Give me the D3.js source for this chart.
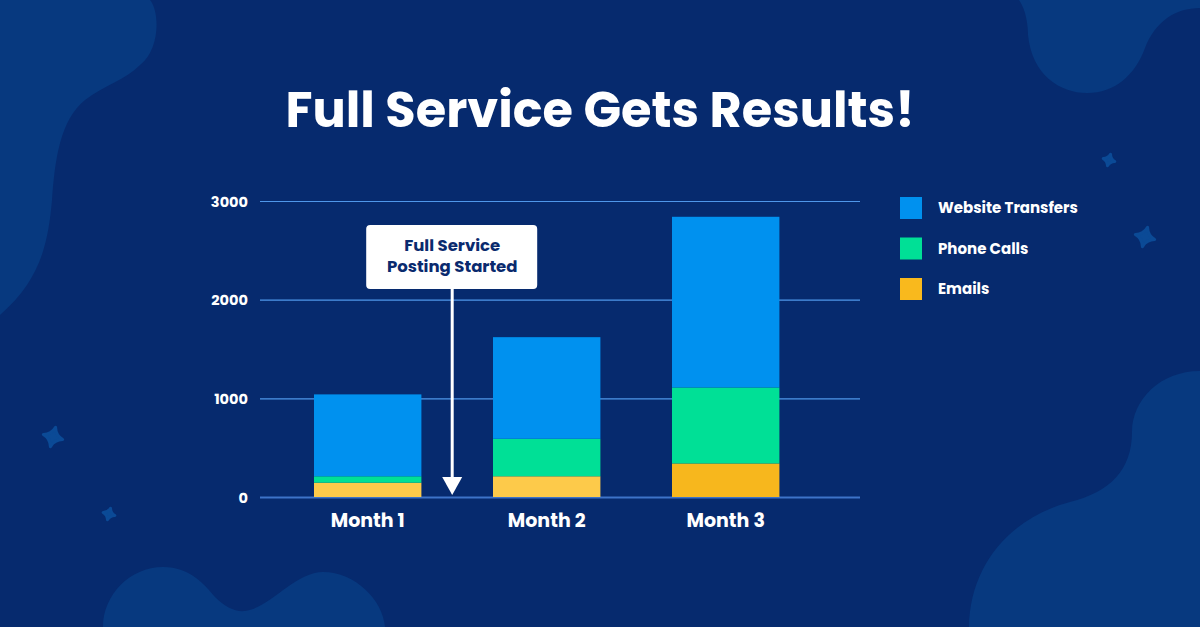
<!DOCTYPE html>
<html>
<head>
<meta charset="utf-8">
<script src="https://cdn.jsdelivr.net/npm/d3@7"></script>
<style>
  html, body { margin: 0; padding: 0; background: #062a6e; }
  svg { display: block; }
</style>
</head>
<body>
<div id="chart"></div>
<script>
// chart data
var months = ['Month 1', 'Month 2', 'Month 3'];
var seriesNames = ['Emails', 'Phone Calls', 'Website Transfers'];
var emails = [145, 210, 340];
var phoneCalls = [65, 380, 770];
var websiteTransfers = [830, 1030, 1730];
var yTicks = [0, 1000, 2000, 3000];
var legendOrder = ['Website Transfers', 'Phone Calls', 'Emails'];

var W = 1200, H = 627;
var navy = '#062a6e', blob = '#07397f', star = '#0b4a96';
var colors = {'Website Transfers': '#0091ef', 'Phone Calls': '#00e096', 'Emails': '#f9b91d'};
var emailShade = ['#fdca4a', '#fdca4a', '#f7b71d'];
var font = 'Poppins, Inter, "Open Sans", sans-serif';

var svg = d3.select('#chart').append('svg')
    .attr('width', W)
    .attr('height', H)

svg.append('rect').attr('width', W).attr('height', H).attr('fill', navy)

// decorative blobs in the background
var blobs = [
    'M0,0 L150,0 C160,12 160,50 140,65 C125,80 105,85 85,100 C60,120 55,160 52,200 C48,245 40,280 0,315 Z',
    'M1019,0 C1026,10 1028,25 1028,35 C1032,75 1060,93 1087,93 C1115,93 1135,75 1145,48 C1155,22 1175,8 1200,8 L1200,0 Z',
    'M1200,371 C1160,371 1132,400 1132,432 C1132,470 1110,492 1070,502 C1010,518 970,565 969,627 L1200,627 Z',
    'M103,627 C103,595 130,567 163,567 C190,567 205,585 215,597 C225,607 235,612 245,611 C270,608 295,572 323,572 C355,572 383,600 385,627 Z'
]
svg.append('g').selectAll('path')
    .data(blobs)
    .join('path')
    .attr('d', d => d)
    .attr('fill', blob)

var stars = [[53, 437, 10], [109, 514, 6], [1109, 160, 6], [1145, 237, 10]]
var starPath = function (r) {
    var c = r * 0.22
    return 'M0,' + (-r) + ' Q' + c + ',' + (-c) + ' ' + r + ',0 Q' + c + ',' + c + ' 0,' + r +
        ' Q' + (-c) + ',' + c + ' ' + (-r) + ',0 Q' + (-c) + ',' + (-c) + ' 0,' + (-r) + ' Z'
}
svg.append('g').selectAll('path')
    .data(stars)
    .join('path')
    .attr('transform', d => 'translate(' + d[0] + ',' + d[1] + ') rotate(15)')
    .attr('d', d => starPath(d[2]))
    .attr('fill', star)
    .attr('stroke', star)
    .attr('stroke-width', 3)
    .attr('stroke-linejoin', 'round')

// title
svg.append('text')
    .attr('x', 600)
    .attr('y', 127)
    .attr('text-anchor', 'middle')
    .attr('textLength', 629)
    .attr('lengthAdjust', 'spacingAndGlyphs')
    .style('font-family', font)
    .style('font-size', '50px')
    .style('font-weight', 'bold')
    .style('fill', '#ffffff')
    .text('Full Service Gets Results!')

// scales
var x = d3.scaleBand()
    .domain(months)
    .range([278.2, 815.2])
    .paddingInner(0.4)
    .paddingOuter(0.2)

var y = d3.scaleLinear()
    .domain([0, 3000])
    .range([497, 201])

var rows = months.map((m, i) => ({
    month: m,
    'Emails': emails[i],
    'Phone Calls': phoneCalls[i],
    'Website Transfers': websiteTransfers[i]
}))
var stacked = d3.stack().keys(seriesNames)(rows)

// gridlines + y labels
var yAxis = d3.axisLeft(y)
    .tickValues(yTicks)
    .tickSize(-600)
    .tickPadding(12)
    .tickFormat(d3.format('d'))

var gy = svg.append('g')
    .attr('transform', 'translate(260,0)')
    .call(yAxis)
gy.select('.domain').remove()
gy.selectAll('.tick line')
    .attr('stroke', d => d === 0 ? '#3d73c8' : '#4f97ea')
    .attr('stroke-width', d => d === 0 ? 2 : 1.2)
gy.selectAll('.tick text')
    .style('font-family', font)
    .style('font-size', '14.5px')
    .style('font-weight', 'bold')
    .style('fill', '#ffffff')
    .attr('dy', '0.35em')

// bars
svg.append('g').selectAll('g')
    .data(stacked)
    .join('g')
    .each(function (layer) {
        d3.select(this).selectAll('rect')
            .data(layer)
            .join('rect')
            .attr('x', d => x(d.data.month))
            .attr('width', x.bandwidth())
            .attr('y', d => y(d[1]))
            .attr('height', d => y(d[0]) - y(d[1]))
            .attr('fill', (d, i) => layer.key === 'Emails' ? emailShade[i] : colors[layer.key])
    })

// x labels
var xAxis = d3.axisBottom(x).tickSize(0).tickPadding(17)
var gx = svg.append('g')
    .attr('transform', 'translate(0,497)')
    .call(xAxis)
gx.select('.domain').remove()
gx.selectAll('.tick text')
    .style('font-family', font)
    .style('font-size', '19px')
    .style('font-weight', 'bold')
    .style('fill', '#ffffff')

// annotation: box + arrow, a little left of the gap between month 1 and 2
var annX = (x('Month 1') + x.bandwidth() + x('Month 2')) / 2 - 5
svg.append('line')
    .attr('x1', annX).attr('x2', annX)
    .attr('y1', 289).attr('y2', 478)
    .attr('stroke', '#ffffff')
    .attr('stroke-width', 3)
svg.append('path')
    .attr('d', 'M' + (annX - 10) + ',' + 477 + ' L' + (annX + 10) + ',' + 477 + ' L' + annX + ',' + (y(0) - 2) + ' Z')
    .attr('fill', '#ffffff')
svg.append('rect')
    .attr('x', annX - 86)
    .attr('y', 225)
    .attr('width', 171)
    .attr('height', 64)
    .attr('rx', 4)
    .attr('fill', '#ffffff')
var annLines = ['Full Service', 'Posting Started']
annLines.forEach((t, i) => {
    svg.append('text')
        .attr('x', annX)
        .attr('y', 251 + i * 21)
        .attr('text-anchor', 'middle')
        .style('font-family', font)
        .style('font-size', '16.5px')
        .style('font-weight', 'bold')
        .style('fill', '#0a2a6e')
        .text(t)
})

// legend
var legend = svg.append('g').attr('transform', 'translate(900,197)')
legendOrder.forEach((k, i) => {
    var row = legend.append('g').attr('transform', 'translate(0,' + (i * 40.5) + ')')
    row.append('rect')
        .attr('width', 22)
        .attr('height', 22)
        .attr('fill', colors[k])
    row.append('text')
        .attr('x', 38)
        .attr('y', 16)
        .style('font-family', font)
        .style('font-size', '15px')
        .style('font-weight', 'bold')
        .style('fill', '#ffffff')
        .text(k)
})
</script>
</body>
</html>
